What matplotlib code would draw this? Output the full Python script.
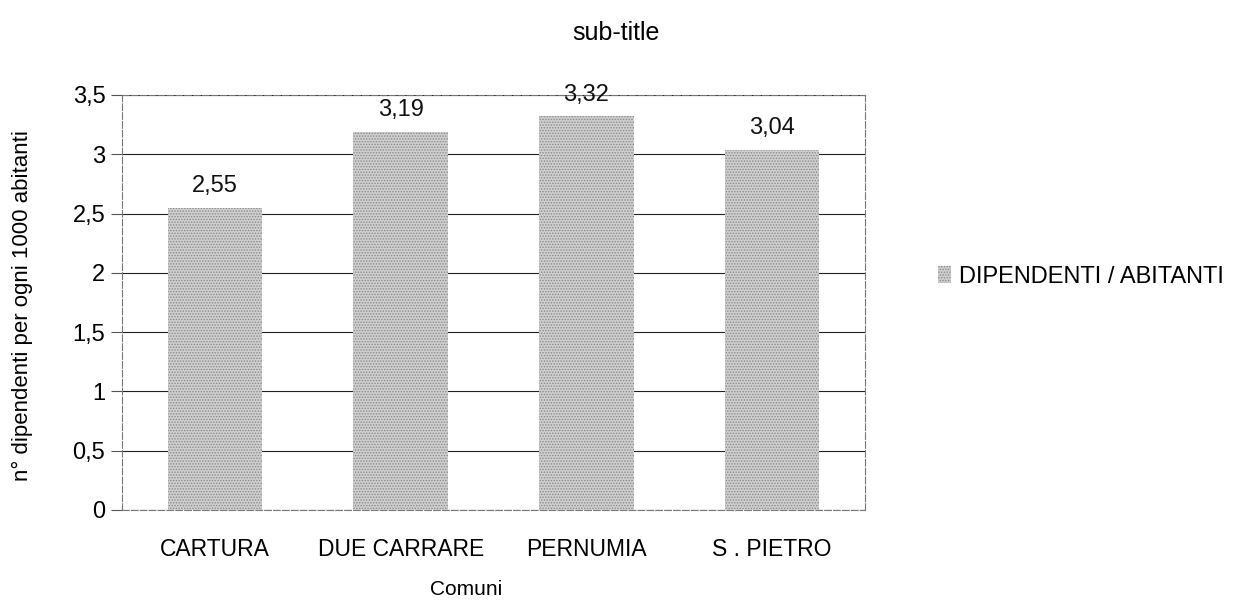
import matplotlib
matplotlib.use("Agg")
import matplotlib.pyplot as plt
import numpy as np

categories = ["CARTURA", "DUE CARRARE", "PERNUMIA", "S . PIETRO"]
values = [2.55, 3.19, 3.32, 3.04]
value_labels = ["2,55", "3,19", "3,32", "3,04"]
yticks = [0, 0.5, 1, 1.5, 2, 2.5, 3, 3.5]
ytick_labels = ["0", "0,5", "1", "1,5", "2", "2,5", "3", "3,5"]
series_name = "DIPENDENTI / ABITANTI"

plt.rcParams['font.family'] = ['Liberation Sans', 'DejaVu Sans']
plt.rcParams['hatch.linewidth'] = 0.7

fig = plt.figure(figsize=(12.33, 6.05), dpi=100)
W, H = 1233, 605
ax = fig.add_axes([122 / W, 1 - 510 / H, (865 - 122) / W, (510 - 95) / H])

x = np.arange(len(categories))
bars = ax.bar(x, values, width=0.51, facecolor='#cfcfcf', edgecolor='#8a8a8a',
              hatch='......', linewidth=0, label=series_name, zorder=3)

for xi, v, lab in zip(x, values, value_labels):
    ax.text(xi, v + 0.09, lab, ha='center', va='bottom', fontsize=17, color='#111111')

ax.set_xlim(-0.5, len(categories) - 0.5)
ax.set_ylim(0, 3.5)
ax.set_yticks(yticks)
ax.set_yticklabels(ytick_labels, fontsize=17)
ax.set_xticks(x)
ax.set_xticklabels(categories, fontsize=16.5)
ax.tick_params(axis='x', length=0, pad=20)
ax.tick_params(axis='y', length=8, color='#555555', pad=4)
ax.yaxis.grid(True, color='#222222', linewidth=0.8, zorder=0)
ax.set_axisbelow(True)
for s in ax.spines.values():
    s.set_color('#777777')
    s.set_linewidth(0.8)
    s.set_linestyle((0, (6, 2)))

ax.set_ylabel("n° dipendenti per ogni 1000 abitanti", fontsize=16)
ax.yaxis.set_label_coords((33 - 122) / 743, (510 - 306) / 415)
ax.set_xlabel("Comuni", fontsize=15)
ax.xaxis.set_label_coords((466 - 122) / 743, (510 - 580) / 415)
fig.text(616 / W, 1 - 33 / H, "sub-title", ha='center', va='center', fontsize=18)

leg = fig.legend(handles=[bars], labels=[series_name], loc='center left',
                 bbox_to_anchor=(938 / W, 1 - 277 / H), frameon=False, fontsize=17,
                 handlelength=0.55, handleheight=0.7, handletextpad=0.35,
                 borderaxespad=0, borderpad=0)

fig.savefig("out.png", dpi=100)
